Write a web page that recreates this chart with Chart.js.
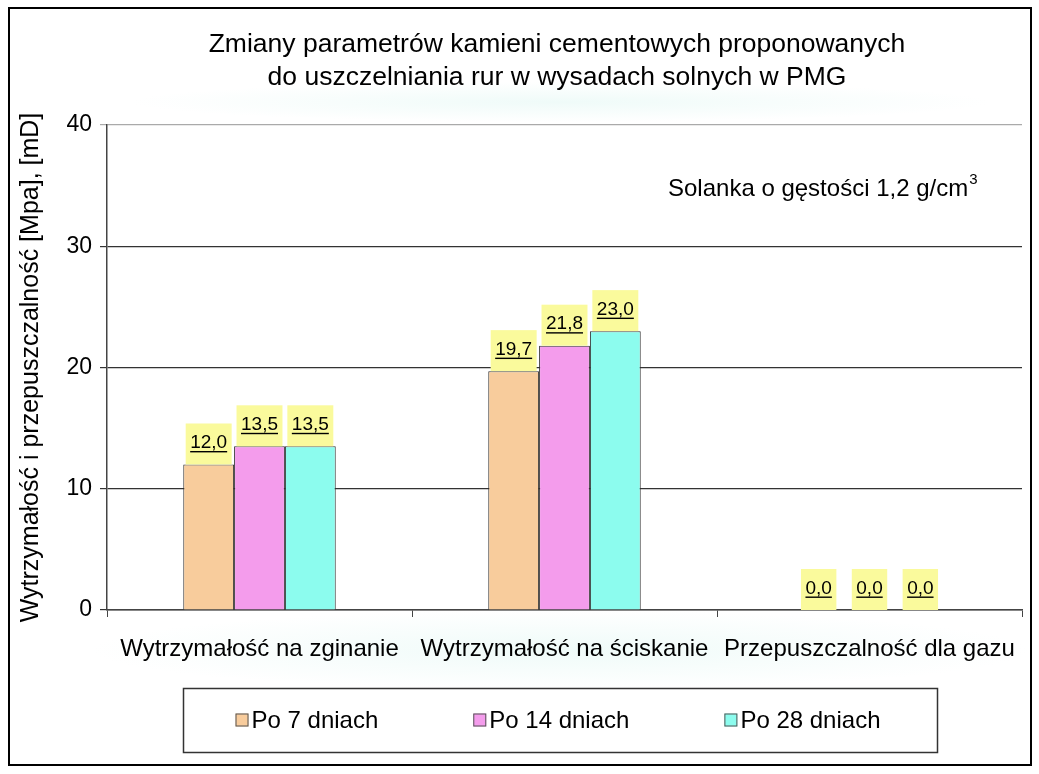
<!DOCTYPE html>
<html>
<head>
<meta charset="utf-8">
<title>Zmiany parametrów kamieni cementowych</title>
<script src="https://cdn.jsdelivr.net/npm/chart.js"></script>
<style>
  html, body { margin: 0; padding: 0; background: #fff; }
  #wrap { width: 1039px; height: 774px; position: relative; }
</style>
</head>
<body>
<div id="wrap"><canvas id="chart"></canvas></div>
<script>
  // data
  const categories = ['Wytrzymałość na zginanie', 'Wytrzymałość na ściskanie', 'Przepuszczalność dla gazu'];
  const seriesNames = ['Po 7 dniach', 'Po 14 dniach', 'Po 28 dniach'];
  const po7 = [12.0, 19.7, 0.0];
  const po14 = [13.5, 21.8, 0.0];
  const po28 = [13.5, 23.0, 0.0];
  const yTicks = [0, 10, 20, 30, 40];
  const titleLines = ['Zmiany parametrów kamieni cementowych proponowanych', 'do uszczelniania rur w wysadach solnych w PMG'];
  const yTitle = 'Wytrzymałość i przepuszczalność [Mpa], [mD]';
  const noteText = 'Solanka o gęstości 1,2 g/cm';
  const noteSup = '3';

  const FONT = '"Liberation Sans", Arial, sans-serif';
  const colors = ['#F8CC9C', '#F49CEC', '#8CFCEE'];

  // background, title, outer frame, value boxes, note and legend
  const decor = {
    id: 'decor',
    beforeDraw(chart) {
      const c = chart.ctx;
      c.save();
      c.fillStyle = '#fff';
      c.fillRect(0, 0, chart.width, chart.height);
      // faint cyan glow like the original export
      [[560, 102, 430, 20], [560, 650, 470, 40]].forEach(([cx, cy, rx, ry]) => {
        c.save();
        c.translate(cx, cy);
        c.scale(1, ry / rx);
        const g = c.createRadialGradient(0, 0, 0, 0, 0, rx);
        g.addColorStop(0, 'rgba(220,246,241,0.45)');
        g.addColorStop(1, 'rgba(220,246,241,0)');
        c.fillStyle = g;
        c.beginPath();
        c.arc(0, 0, rx, 0, Math.PI * 2);
        c.fill();
        c.restore();
      });
      // title, centred like the original (not on the canvas middle)
      c.fillStyle = '#000';
      c.font = '26.5px ' + FONT;
      c.textAlign = 'center';
      c.textBaseline = 'middle';
      titleLines.forEach((t, i) => c.fillText(t, 557, 45 + i * 33));
      c.restore();
    },
    afterDatasetsDraw(chart) {
      const c = chart.ctx;
      c.save();
      c.font = '19px ' + FONT;
      c.textAlign = 'center';
      c.textBaseline = 'middle';
      chart.data.datasets.forEach((ds, i) => {
        chart.getDatasetMeta(i).data.forEach((bar, j) => {
          const txt = ds.data[j].toFixed(1).replace('.', ',');
          const tw = c.measureText(txt).width;
          const w = tw + 9, h = 41;
          c.fillStyle = '#FAFA9C';
          c.fillRect(bar.x - w / 2, bar.y - h, w, h);
          c.fillStyle = '#000';
          const ty = bar.y - h / 2 - 1;
          c.fillText(txt, bar.x, ty);
          c.fillRect(bar.x - tw / 2, ty + 8, tw, 1.4);
        });
      });
      c.restore();
    },
    afterDraw(chart) {
      const c = chart.ctx;
      c.save();
      // note in the upper right
      c.fillStyle = '#000';
      c.font = '24px ' + FONT;
      c.textBaseline = 'alphabetic';
      c.textAlign = 'left';
      const nx = 668, ny = 196;
      c.fillText(noteText, nx, ny);
      const nw = c.measureText(noteText).width;
      c.font = '15px ' + FONT;
      c.fillText(noteSup, nx + nw + 1, ny - 12);

      // legend box
      c.strokeStyle = '#333';
      c.lineWidth = 1.5;
      c.strokeRect(183.5, 688.5, 754, 64);
      c.font = '24px ' + FONT;
      c.textBaseline = 'middle';
      const box = 13, gapTxt = 3, gap = 95;
      const widths = chart.data.datasets.map(ds => box + gapTxt + c.measureText(ds.label).width);
      const total = widths.reduce((a, b) => a + b, 0) + gap * (widths.length - 1);
      let x = 558 - total / 2;
      const ly = 720;
      chart.data.datasets.forEach((ds, i) => {
        c.fillStyle = ds.backgroundColor;
        c.fillRect(x, ly - box / 2, box, box);
        c.strokeStyle = '#555';
        c.lineWidth = 1;
        c.strokeRect(x + 0.5, ly - box / 2 + 0.5, box - 1, box - 1);
        c.fillStyle = '#000';
        c.fillText(ds.label, x + box + gapTxt, ly + 1);
        x += widths[i] + gap;
      });

      // outer frame
      c.strokeStyle = '#000';
      c.lineWidth = 2;
      c.strokeRect(9, 8, 1022, 757);
      c.restore();
    }
  };

  new Chart(document.getElementById('chart'), {
    type: 'bar',
    data: {
      labels: categories,
      datasets: [
        { label: seriesNames[0], data: po7, backgroundColor: colors[0] },
        { label: seriesNames[1], data: po14, backgroundColor: colors[1] },
        { label: seriesNames[2], data: po28, backgroundColor: colors[2] }
      ].map(d => Object.assign(d, { borderColor: '#333', borderWidth: 1, categoryPercentage: 0.5, barPercentage: 1.0 }))
    },
    options: {
      responsive: true,
      maintainAspectRatio: false,
      animation: false,
      layout: { padding: { left: 0, right: 17, top: 125, bottom: 100 } },
      plugins: {
        legend: { display: false },
        tooltip: { enabled: false },
        title: { display: false }
      },
      scales: {
        x: {
          grid: { drawOnChartArea: false, offset: true, tickLength: 7, color: '#444' },
          border: { color: '#444', width: 1.5 },
          ticks: { color: '#000', font: { family: FONT, size: 24 }, padding: 18, maxRotation: 0, autoSkip: false },
          afterFit: s => { s.height = 64; }
        },
        y: {
          min: yTicks[0],
          max: yTicks[yTicks.length - 1],
          afterBuildTicks: s => { s.ticks = yTicks.map(v => ({ value: v })); },
          grid: {
            tickLength: 7,
            lineWidth: 1.2,
            color: ctx => ctx.tick && ctx.tick.value === 40 ? '#aaa' : '#333'
          },
          border: { color: '#444', width: 1.5 },
          ticks: { color: '#000', font: { family: FONT, size: 23 }, padding: 8 },
          title: {
            display: true,
            text: yTitle,
            color: '#000',
            font: { family: FONT, size: 25 },
            padding: { top: 16, bottom: 0 }
          },
          afterFit: s => { s.width = 107; }
        }
      }
    },
    plugins: [decor]
  });
</script>
</body>
</html>
